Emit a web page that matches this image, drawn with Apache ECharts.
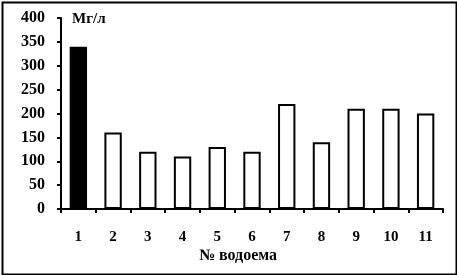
<!DOCTYPE html>
<html><head><meta charset="utf-8">
<style>html,body{margin:0;padding:0;background:#fff}#c{width:457px;height:275px}</style>
<script src="https://cdn.jsdelivr.net/npm/echarts@6/dist/echarts.min.js"></script>
</head><body><div id="c"></div>
<script>
var categories = ['1','2','3','4','5','6','7','8','9','10','11'];
var values = [340,160,120,110,130,120,220,140,210,210,200];
var yTicks = [0,50,100,150,200,250,300,350,400];
var font = '"Liberation Serif","Times New Roman",serif';
var chart = echarts.init(document.getElementById('c'), null, {renderer:'canvas'});
chart.setOption({
  animation:false,
  backgroundColor:'#fff',
  grid:{left:61,right:14,top:18,bottom:66,containLabel:false},
  xAxis:{
    type:'category', data:categories,
    axisLine:{lineStyle:{color:'#000',width:2}},
    axisTick:{show:true,length:4,lineStyle:{color:'#000',width:2}},
    axisLabel:{fontFamily:font,fontWeight:'bold',fontSize:15,color:'#000',margin:21}
  },
  yAxis:{
    type:'value', min:0, max:400, interval:50,
    axisLine:{show:true,lineStyle:{color:'#000',width:2}},
    axisTick:{show:true,length:4,lineStyle:{color:'#000',width:2}},
    splitLine:{show:false},
    axisLabel:{fontFamily:font,fontWeight:'bold',fontSize:16,color:'#000',margin:16,
      formatter:function(v){return yTicks.indexOf(v)>=0?String(v):'';}}
  },
  series:[{
    type:'bar', data:values.map(function(v,i){
      return {value:v,itemStyle:{color:i===0?'#000':'#fff'}};
    }),
    barWidth:'50%',
    itemStyle:{borderColor:'#000',borderWidth:2}
  }],
  graphic:[
    {type:'rect',left:0,top:0,shape:{x:1,y:1,width:454,height:272},
     style:{fill:'none',stroke:'#000',lineWidth:2},silent:true},
    {type:'text',left:72,top:12,style:{text:'Мг/л',font:'bold 15px '+font,fill:'#000'}},
    {type:'text',x:238,y:256,style:{text:'№ водоема',font:'bold 16px '+font,fill:'#000',align:'center',verticalAlign:'middle'}}
  ]
});
</script></body></html>
